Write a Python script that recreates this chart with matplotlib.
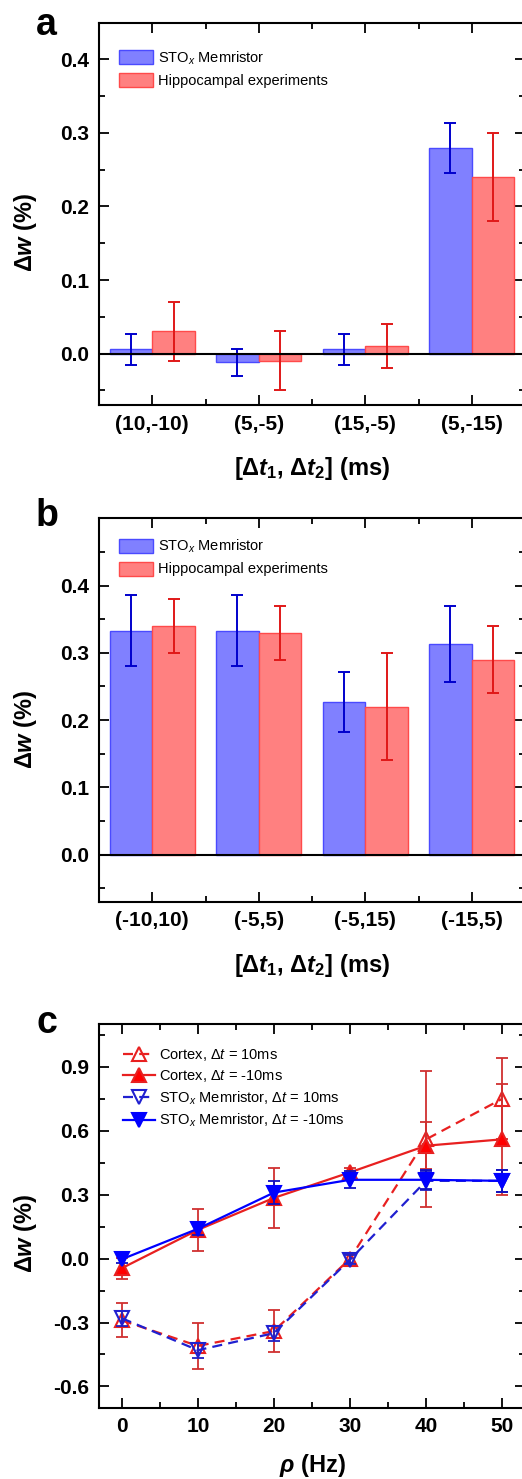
import matplotlib.pyplot as plt
import numpy as np
from matplotlib.ticker import MultipleLocator

plt.rcParams['font.family'] = ['Liberation Sans', 'DejaVu Sans']
plt.rcParams['mathtext.fontset'] = 'custom'
plt.rcParams['mathtext.rm'] = 'Liberation Sans'
plt.rcParams['mathtext.it'] = 'Liberation Sans:italic'
plt.rcParams['mathtext.bf'] = 'Liberation Sans:bold'
plt.rcParams['mathtext.bfit'] = 'Liberation Sans:italic:bold'
plt.rcParams['axes.unicode_minus'] = False

# panel a
cats_a = ['(10,-10)', '(5,-5)', '(15,-5)', '(5,-15)']
sto_a = [0.006, -0.012, 0.006, 0.279]
sto_a_err = [0.021, 0.018, 0.021, 0.034]
hip_a = [0.030, -0.010, 0.010, 0.240]
hip_a_err = [0.040, 0.040, 0.030, 0.060]

# panel b
cats_b = ['(-10,10)', '(-5,5)', '(-5,15)', '(-15,5)']
sto_b = [0.333, 0.333, 0.227, 0.313]
sto_b_err = [0.053, 0.053, 0.045, 0.056]
hip_b = [0.340, 0.330, 0.220, 0.290]
hip_b_err = [0.040, 0.040, 0.080, 0.050]

# panel c
freq = [0, 10, 20, 30, 40, 50]
cortex_p10 = [-0.29, -0.41, -0.34, 0.0, 0.56, 0.75]
cortex_p10_err = [0.08, 0.11, 0.10, 0.02, 0.32, 0.19]
cortex_m10 = [-0.045, 0.135, 0.285, 0.405, 0.53, 0.56]
cortex_m10_err = [0.05, 0.10, 0.14, 0.02, 0.11, 0.26]
sto_p10 = [-0.28, -0.43, -0.35, -0.005, 0.365, 0.365]
sto_p10_err = [0.035, 0.035, 0.035, 0.02, 0.045, 0.05]
sto_m10 = [-0.003, 0.14, 0.31, 0.37, 0.37, 0.365]
sto_m10_err = [0.02, 0.03, 0.055, 0.04, 0.045, 0.05]

BLUE_FILL = '#8080ff'
BLUE_EDGE = '#4a4aff'
BLUE_ERR = '#0000cc'
RED_FILL = '#ff8080'
RED_EDGE = '#ff4a4a'
RED_ERR = '#e01818'

W, H = 522, 1479
fig = plt.figure(figsize=(W / 100, H / 100), dpi=100)


def frac(left, top, right, bottom):
    return [left / W, 1 - bottom / H, (right - left) / W, (bottom - top) / H]


def style(ax):
    ax.tick_params(which='both', direction='in', top=True, right=True, width=1.3)
    ax.tick_params(which='major', length=7)
    ax.tick_params(which='minor', length=4)
    ax.tick_params(axis='y', pad=7, labelsize=15)
    ax.tick_params(axis='x', pad=7, labelsize=15)
    for s in ax.spines.values():
        s.set_linewidth(1.5)
    for lab in ax.get_xticklabels() + ax.get_yticklabels():
        lab.set_fontweight('bold')


def bar_panel(ax, cats, sto, sto_err, hip, hip_err, ylim, leg_y):
    x = np.arange(len(cats))
    w = 0.4
    ax.bar(x - w / 2, sto, w, color=BLUE_FILL, edgecolor=BLUE_EDGE, linewidth=1,
           label='STO$_{x}$ Memristor', zorder=2)
    ax.bar(x + w / 2, hip, w, color=RED_FILL, edgecolor=RED_EDGE, linewidth=1,
           label='Hippocampal experiments', zorder=2)
    ax.errorbar(x - w / 2, sto, yerr=sto_err, fmt='none', ecolor=BLUE_ERR,
                elinewidth=1.4, capsize=4, capthick=1.4, zorder=3)
    ax.errorbar(x + w / 2, hip, yerr=hip_err, fmt='none', ecolor=RED_ERR,
                elinewidth=1.4, capsize=4, capthick=1.4, zorder=3)
    ax.axhline(0, color='black', lw=1.5, zorder=4)
    ax.set_xlim(-0.5, len(cats) - 0.5)
    ax.set_ylim(*ylim)
    ax.set_xticks(x)
    ax.set_xticklabels(cats)
    ax.xaxis.set_minor_locator(plt.FixedLocator(x[:-1] + 0.5))
    ax.set_yticks([0.0, 0.1, 0.2, 0.3, 0.4])
    ax.set_yticklabels(['0.0', '0.1', '0.2', '0.3', '0.4'])
    ax.yaxis.set_minor_locator(MultipleLocator(0.05))
    style(ax)
    ax.set_xlabel(r'[Δ$\mathbfit{t}_\mathbf{1}$, Δ$\mathbfit{t}_\mathbf{2}$] (ms)',
                  fontsize=17, fontweight='bold')
    ax.xaxis.set_label_coords(0.5, -0.13)
    ax.set_ylabel(r'Δ$\mathbfit{w}$ (%)', fontsize=17, fontweight='bold')
    ax.legend(loc='upper left', bbox_to_anchor=(0.034, leg_y), frameon=False,
              fontsize=10.5, handlelength=2.3, handleheight=1.1,
              handletextpad=0.35, labelspacing=0.45, borderaxespad=0)


ax_a = fig.add_axes(frac(99, 22.7, 525, 405))
bar_panel(ax_a, cats_a, sto_a, sto_a_err, hip_a, hip_a_err, (-0.07, 0.45), 0.946)
ax_a.yaxis.set_label_coords(-0.141, 0.453)

ax_b = fig.add_axes(frac(99, 518.3, 525, 901.7))
bar_panel(ax_b, cats_b, sto_b, sto_b_err, hip_b, hip_b_err, (-0.07, 0.50), 0.965)
ax_b.yaxis.set_label_coords(-0.141, 0.45)

# panel c
ax_c = fig.add_axes(frac(99, 1024.3, 525, 1407.7))
dash = (0, (4.5, 2.8))
series = [
    (cortex_p10, cortex_p10_err, '#e82020', '#d03030', dash, '^', 'none',
     r'Cortex, Δ$t$ = 10ms'),
    (cortex_m10, cortex_m10_err, '#e82020', '#d03030', '-', '^', '#ff0000',
     r'Cortex, Δ$t$ = -10ms'),
    (sto_p10, sto_p10_err, '#2020d0', '#2020c0', dash, 'v', 'none',
     r'STO$_{x}$ Memristor, Δ$t$ = 10ms'),
    (sto_m10, sto_m10_err, '#0000ff', '#1010c0', '-', 'v', '#0000ff',
     r'STO$_{x}$ Memristor, Δ$t$ = -10ms'),
]
for vals, errs, col, ecol, ls, mk, mfc, lab in series:
    ax_c.errorbar(freq, vals, yerr=errs, fmt='none', ecolor=ecol,
                  elinewidth=1.3, capsize=4.5, capthick=1.3)
    ax_c.plot(freq, vals, color=col, ls=ls, lw=1.6, marker=mk, ms=10,
              mfc=mfc, mec=col, mew=1.5, label=lab)
ax_c.set_xlim(-3, 53)
ax_c.set_ylim(-0.7, 1.1)
ax_c.xaxis.set_major_locator(MultipleLocator(10))
ax_c.xaxis.set_minor_locator(MultipleLocator(5))
ax_c.set_yticks([-0.6, -0.3, 0.0, 0.3, 0.6, 0.9])
ax_c.set_yticklabels(['-0.6', '-0.3', '0.0', '0.3', '0.6', '0.9'])
ax_c.yaxis.set_minor_locator(MultipleLocator(0.15))
style(ax_c)
ax_c.set_xlabel(r'$\mathbfit{ρ}$ (Hz)', fontsize=17, fontweight='bold')
ax_c.xaxis.set_label_coords(0.5, -0.115)
ax_c.set_ylabel(r'Δ$\mathbfit{w}$ (%)', fontsize=17, fontweight='bold')
ax_c.yaxis.set_label_coords(-0.141, 0.455)
ax_c.legend(loc='upper left', bbox_to_anchor=(0.042, 0.955), frameon=False,
            fontsize=10.5, handlelength=2.2, handletextpad=0.3,
            labelspacing=0.35, borderaxespad=0)

# panel letters
for letter, base in [('a', 35), ('b', 526), ('c', 1033)]:
    fig.text(36 / W, 1 - base / H, letter, fontsize=27, fontweight='bold',
             va='baseline', ha='left')

fig.savefig('out.png', dpi=100)
